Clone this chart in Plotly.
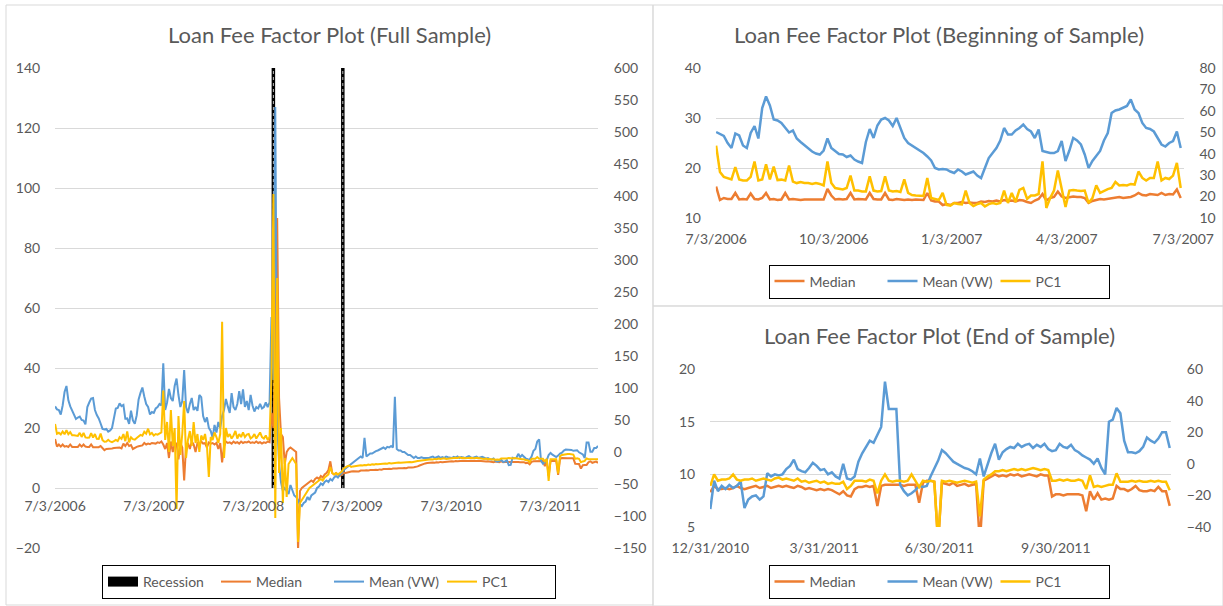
import pandas as pd
import plotly.graph_objects as go

# ---------------- DATA ----------------
# Full sample: weekly observations starting 2006-07-03
full_start = "2006-07-03"
median_full = [
    16.3, 13.8, 14.5, 13.8, 14.5, 13.8, 14.0, 13.7, 14.5, 13.7,
    13.7, 13.6, 13.7, 14.5, 13.8, 14.5, 13.8, 13.7, 13.7, 14.5,
    13.6, 13.6, 13.7, 13.6, 14.0, 13.3, 12.6, 13.0, 13.0, 13.0,
    13.2, 13.3, 13.3, 13.4, 13.5, 13.2, 14.8, 14.0, 15.0, 14.0,
    14.3, 13.0, 13.5, 13.7, 13.9, 14.1, 14.2, 15.0, 14.5, 14.8,
    14.6, 15.0,
    15.0, 14.8, 15.2, 15.0, 15.5,
    14.5, 13.0, 15.0, 10.0, 15.5, 12.0, 14.5,
    15.0, 9.5, 15.0, 13.5, 2.5, 14.0, 15.0,
    13.0, 15.5, 14.5, 12.0, 15.0, 14.5, 15.5,
    14.8, 15.0, 13.5, 15.2, 14.8, 15.0, 14.5,
    15.0, 13.0, 15.0, 8.5, 14.0, 15.5, 15.0,
    15.2, 14.8, 15.5, 15.0, 15.3, 14.8, 15.5,
    15.0, 15.3, 15.2, 15.5, 15.0,
    15.2, 15.0, 15.5, 15.0, 15.3, 14.8, 15.2, 15.0, 15.5, 15.3,
    25, 20, 45, 90, 30, 18, 17, 8, 12, 13, 13.5, 13, 12.5, 12, -21,
    -1, 0, 0.5, 1.0, 1.5, 2.0, 2.5, 2.0, 3.0, 3.5,
    3.0, 4.0, 3.5, 4.5, 5.0, 6.0, 8.9, 5.0, 4.5, 5.0,
    4.5, 4.0, 4.5, 5.0, 5.0, 5.2, 5.5,
    5.5, 5.6, 5.6, 5.7, 5.5, 5.8, 5.7, 5.8, 5.9, 5.8,
    6.0, 5.9, 6.0, 6.1, 6.0, 6.2, 6.1, 6.3, 6.2, 6.3,
    6.4, 6.3, 6.5, 6.4, 6.5, 6.6, 6.5, 6.6, 6.7, 6.6,
    6.8, 6.7, 6.8, 6.9, 7.0, 7.2, 7.5, 7.8,
    8.0, 8.2, 8.3, 8.4, 8.3, 8.5, 8.4, 8.6, 8.5, 8.7, 8.6, 8.7, 8.8, 8.7,
    8.8, 8.9, 8.8, 9.0, 8.9, 9.0, 8.9, 9.1, 9.0, 8.9,
    9.0, 9.1, 9.0, 8.9, 9.0, 9.1, 9.0, 8.9, 9.0, 8.8,
    8.9, 8.8, 8.7, 8.6, 8.8, 8.7, 8.6,
    8.9, 8.6, 8.7, 8.7, 8.7, 8.7, 8.9, 8.8, 8.8, 8.7,
    8.6, 8.6, 8.6, 8.3, 8.4, 7.9, 8.7, 8.9, 8.9, 8.9,
    9.0, 9.0, 9.0, 7.3, 9.4, 4.0, 9.0, 9.0, 9.1, 9.0,
    4.4, 9.6, 10.0, 9.9, 9.9, 9.9, 9.9, 10.0, 9.9, 8.1,
    8.1, 8.0, 6.5, 7.6, 7.7, 7.7, 8.6, 8.9, 8.4, 8.5,
    8.8, 8.4,
]
mean_full = [
    27.2, 26.2, 26.0, 24.5, 27.5, 32.0, 34.0, 29.2, 27.2, 25.9,
    24.3, 23.0, 23.5, 23.8, 22.7, 22.5, 21.2, 27.0, 28.5, 29.8,
    30.0, 26.0, 24.3, 23.2, 21.5, 19.7, 19.5, 19.7, 18.8, 19.2,
    20.0, 23.5, 26.5, 26.7, 28.2, 27.3, 27.7, 23.1, 23.2, 21.4,
    25.8, 22.5, 21.4, 24.2, 29.5, 31.7, 33.5, 30.5, 28.0, 27.0,
    24.5, 25.3,
    25.0, 26.5, 27.0, 28.0, 27.5, 41.6, 26.0, 28.5, 33.0, 30.0,
    29.0, 34.0, 36.5, 31.0, 27.0, 29.0, 39.3, 27.0, 25.0, 28.0,
    30.0, 26.0, 27.0, 25.7, 31.0, 30.3, 24.0, 22.0, 23.5, 20.0,
    19.0, 16.8, 21.0, 18.5, 22.0, 20.0, 24.0, 26.0, 29.7, 27.2,
    25.0, 31.6, 27.0, 26.0, 28.0, 32.3, 28.0, 32.9, 27.0, 29.0,
    26.0, 31.0,
    27.5, 25.5, 27.0, 26.5, 28.0, 26.5, 27.0, 28.5, 27.0, 28.5,
    57, 36, 127, 22, 8,
    2, -1, 0, -1, -2, 1, -1, -2.5, -3, -4,
    -5.5, -6, -5, -4.5, -3, -4, -2.5, -2, -1.5, 0,
    0.5, 1.5, 1.0, 2.0, 2.5, 2.0, 3.0, 2.5, 3.5, 4.0,
    3.5, 4.5, 5.0, 6.0, 6.5, 7.0, 7.5,
    8.0, 8.5, 9.3, 9.5, 10.0, 10.5, 10.0, 16.7, 10.5, 11.0,
    11.5, 11.5, 12.0, 12.3, 12.5, 12.8, 13.0, 13.5, 13.0, 13.7,
    13.5, 14.0, 13.5, 30.4, 13.0, 12.5, 12.5, 12.0, 12.0, 11.5,
    11.0, 11.0, 10.5, 10.0, 10.5, 10.0, 10.0, 10.2, 10.0, 10.0,
    10.2, 10.0, 10.3, 10.5, 10.0, 10.2, 10.5, 10.0, 10.3, 10.0,
    10.5, 10.3,
    10.2, 10.0, 10.4, 10.1, 10.5, 10.0, 10.3, 10.2, 10.0, 10.4,
    10.6, 10.2, 10.0, 10.3, 10.5, 10.0, 10.2, 10.4, 10.1, 9.8,
    10.0, 9.6, 9.5, 9.8, 9.0, 8.8, 9.0,
    9.4, 8.7, 8.8, 9.3, 7.6, 7.7, 10.1, 9.95, 10.0, 11.4,
    10.3, 11.0, 10.4, 9.8, 9.6, 9.5, 10.5, 12.4, 13.0, 15.5,
    16.2, 9.0, 8.1, 8.7, 9.3, 11.0, 11.7, 11.1, 10.6, 10.3,
    10.8, 11.5, 11.8, 12.5, 12.8, 12.8, 12.6, 12.7, 12.4, 12.6,
    12.6, 11.9, 11.6, 11.2, 10.0, 15.2, 15.2, 12.1, 12.1, 13.3,
    13.3, 14.0,
]
pc1_full = [
    43.8, 28.5, 30.0, 27.5, 32.0, 27.7, 34.0, 27.8, 31.0, 26.3,
    26.3, 26.1, 25.2, 30.0, 23.5, 29.8, 22.8, 22.4, 22.5, 29.4,
    22.5, 28.0, 20.5, 20.4, 28.7, 18.6, 16.0, 16.5, 19.0, 16.5,
    15.4, 17.0, 19.0, 17.0, 23.1, 20.5, 28.0, 17.0, 32.2, 15.1,
    23.0, 20.0, 19.3, 22.0, 24.0, 26.8, 25.4, 31.7, 28.7, 36.4,
    27.5, 29.8,
    25.8, 28.1, 27.2, 29.1, 30.5, 96.1,
    18.8, 46.9, 0.0, 65.6, 9.4, 37.5, -89.1,
    56.3, -4.7, 28.1, 79.7, -9.4, 18.8,
    32.8, 9.4, 46.9, 14.1, 28.1, 0.0, 25.8,
    18.8, 28.1, 9.4, -38.9, 23.4, 18.8, 30.5,
    23.4, 14.1, 28.1, 203.4, -9.4, 37.5, 23.4,
    28.1, 21.1, 25.8, 32.8, 21.1, 28.1, 23.4,
    30.5, 23.4, 27.2, 28.1, 21.1,
    23.4, 28.1, 21.1, 25.8, 30.5, 23.4, 21.1, 25.8, 18.8, 23.4,
    117.2, 403.1, -103.1, 271.9, -32.8, 37.5, -79.7, -9.4, -70.3, -18.8,
    -14.1, -9.4, -14.1, -18.8, -140.6,
    -79.7, -75.0, -70.3, -65.6, -60.9, -56.3, -53.9, -51.6, -49.2, -46.9,
    -44.5, -42.2, -44.5, -39.8, -37.5, -35.2, -23.4, -32.8, -35.2, -32.8,
    -35.2, -32.8, -30.5, -25.8, -23.4, -22.0, -21.1,
    -23.4, -22.5, -22.0, -21.1, -21.6, -20.6, -21.1, -20.2, -20.6, -19.7,
    -20.2, -19.2, -19.7, -18.8, -19.2, -18.8, -18.3, -18.8, -17.8, -18.3,
    -17.3, -17.8, -17.3, -16.9, -17.3, -16.4, -16.9, -16.4, -15.9, -16.4,
    -15.9, -15.5, -15.9, -15.0, -14.5, -14.1, -13.6, -13.1,
    -12.7, -12.2, -11.7, -12.2, -11.3, -11.7, -10.8, -11.3, -10.3, -10.8,
    -10.3, -9.8, -10.8, -10.3,
    -9.8, -9.4, -9.8, -8.9, -9.4, -8.4, -9.4, -8.9, -9.8, -9.4,
    -8.4, -8.9, -9.4, -9.8, -8.9, -9.4, -10.3, -9.8, -10.8, -10.3,
    -11.3, -10.8, -11.7, -11.3, -12.2, -11.7, -12.2,
    -10.0, -10.0, -10.7, -10.0, -9.3, -10.0, -10.0, -9.3, -10.0, -10.0,
    -10.7, -11.3, -11.3, -12.7, -12.7, -16.0, -10.7, -10.7, -10.7, -8.0,
    -10.7, -10.7, -10.7, -14.7, -10.7, -45.0, -11.3, -11.3, -11.3, -11.3,
    -33.3, -6.7, -4.7, -4.0, -3.3, -3.3, -3.3, -3.3, -4.0, -10.7,
    -10.0, -10.7, -16.0, -14.7, -14.0, -10.0, -11.3, -11.3, -10.7, -11.3,
    -11.3, -11.3,
]
recession_start = "2008-09-15"
recession_end = "2009-05-29"
recession_height = 140
full_tick_dates = ["2006-07-03", "2007-07-03", "2008-07-03", "2009-07-03", "2010-07-03", "2011-07-03"]
full_tick_text = ["7/3/2006", "7/3/2007", "7/3/2008", "7/3/2009", "7/3/2010", "7/3/2011"]

# Beginning of sample: every 3 days from 2006-07-03
begin_start = "2006-07-03"
median_begin = [
    16.3, 13.6, 14.0, 13.8, 13.8, 15.0, 13.7, 13.8, 13.7, 14.9,
    13.8, 13.7, 14.0, 15.0, 13.7, 13.8, 13.6, 13.7, 15.0, 13.7,
    13.8, 13.7, 13.6, 13.7, 13.7, 13.6, 13.7, 13.6, 13.7, 15.8,
    14.5, 13.7, 13.8, 13.7, 13.8, 15.0, 13.7, 13.8, 13.7, 13.7,
    15.0, 13.8, 13.7, 13.7, 15.0, 13.7, 13.6, 13.8, 13.7, 13.6,
    13.7, 13.6, 13.7, 13.6, 13.6, 15.0, 13.5, 13.3, 13.3, 12.6,
    12.8, 12.6, 13.0, 13.0, 13.2, 13.0, 13.1, 13.0, 13.0, 13.3,
    13.2, 13.4, 13.3, 13.5, 13.3, 13.6, 13.4, 13.5, 13.3, 13.6,
    13.5, 13.2, 13.0, 13.5, 13.8, 14.8, 13.5, 14.0, 14.2, 15.3,
    14.3, 14.0, 14.2, 14.3, 14.2, 14.2, 14.0, 13.0, 13.4, 13.6,
    13.8, 13.7, 13.8, 13.9, 14.0, 14.2, 14.0, 14.1, 14.2, 14.5,
    15.0, 14.6, 14.5, 14.8, 14.7, 14.6, 15.0, 14.6, 14.8, 14.7,
    15.7, 14.0,
]
mean_begin = [
    27.2, 26.8, 26.4, 25.0, 24.0, 26.9, 26.5, 24.5, 24.0, 27.0,
    28.4, 25.9, 32.0, 34.3, 32.5, 29.7, 29.5, 29.0, 28.0, 27.1,
    27.5, 25.9, 25.2, 24.5, 24.0, 23.3, 22.9, 22.7, 23.5, 25.9,
    24.0, 23.3, 22.8, 22.7, 22.2, 22.5, 21.7, 21.3, 21.0, 25.2,
    27.8, 26.0, 28.5, 29.7, 30.0, 29.5, 28.4, 30.0, 28.0, 26.0,
    25.0, 24.5, 24.0, 23.4, 23.0, 22.3, 21.5, 20.0, 19.7, 19.8,
    19.7, 19.3, 19.0, 19.7, 19.3, 18.7, 19.0, 19.3, 18.5, 18.0,
    20.0, 22.0, 23.0, 24.0, 25.5, 28.0, 26.7, 26.7, 27.5, 28.0,
    28.7, 27.8, 27.3, 26.0, 27.7, 23.4, 23.2, 23.0, 23.0, 23.4,
    25.4, 21.4, 23.5, 26.0, 25.5, 24.7, 22.7, 20.0, 21.4, 22.5,
    23.4, 25.5, 27.0, 31.0, 31.5, 31.7, 32.0, 32.4, 33.7, 31.7,
    31.0, 29.0, 28.0, 27.8, 27.3, 26.0, 24.7, 24.3, 25.0, 25.4,
    27.3, 24.0,
]
pc1_begin = [
    43.8, 31.5, 29.2, 28.7, 28.0, 33.8, 28.0, 27.5, 27.5, 29.2,
    36.4, 27.5, 28.0, 35.0, 28.0, 34.0, 27.7, 27.9, 27.5, 34.5,
    27.0, 26.3, 26.8, 26.3, 26.3, 25.9, 26.3, 25.9, 25.2, 36.4,
    26.3, 24.0, 23.5, 23.3, 24.0, 29.8, 22.8, 22.8, 22.4, 22.4,
    29.4, 22.8, 22.4, 22.6, 29.4, 22.8, 22.4, 22.6, 22.1, 28.0,
    21.7, 20.7, 20.5, 20.5, 20.3, 28.7, 19.3, 18.9, 18.4, 21.7,
    16.1, 15.8, 17.0, 16.5, 16.3, 22.8, 17.0, 15.6, 16.5, 17.0,
    15.4, 16.5, 17.0, 16.5, 17.0, 22.8, 17.0, 21.7, 17.5, 23.1,
    24.0, 18.9, 20.5, 20.5, 21.2, 36.4, 14.7, 19.3, 22.8, 32.2,
    22.8, 15.1, 22.8, 23.1, 22.8, 22.6, 22.8, 17.0, 19.3, 25.2,
    21.7, 22.8, 23.5, 24.0, 26.8, 25.2, 25.4, 25.2, 25.9, 25.6,
    31.7, 28.7, 27.5, 28.7, 28.7, 36.4, 27.5, 28.7, 28.2, 29.8,
    35.7, 24.0,
]
begin_tick_dates = ["2006-07-03", "2006-10-03", "2007-01-03", "2007-04-03", "2007-07-03"]
begin_tick_text = ["7/3/2006", "10/3/2006", "1/3/2007", "4/3/2007", "7/3/2007"]

# End of sample: every 3 days from 2010-12-31
end_start = "2010-12-31"
median_end = [
    8.3, 8.9, 8.6, 8.6, 8.7, 8.6, 8.7, 8.9, 8.7, 8.6,
    8.7, 8.8, 8.9, 8.7, 8.8, 8.9, 8.7, 8.8, 8.9, 8.8,
    8.9, 8.8, 8.7, 8.9, 8.8, 8.6, 8.7, 8.6, 8.5, 8.6,
    8.5, 8.6, 8.5, 8.3, 8.1, 8.4, 8.0, 7.9, 8.6, 8.8,
    8.8, 8.9, 8.8, 8.9, 7.0, 8.9, 9.0, 9.0, 9.0, 9.0,
    9.0, 8.9, 9.0, 9.0, 9.0, 7.3, 9.2, 9.4, 9.4, 9.3,
    3.5, 9.2, 9.1, 9.0, 9.2, 8.9, 9.0, 9.1, 8.9, 9.0,
    9.1, 3.5, 9.4, 9.6, 9.8, 10.0, 9.8, 9.9, 9.8, 10.0,
    9.9, 10.0, 9.8, 9.9, 10.0, 9.9, 9.8, 10.0, 9.9, 9.9,
    7.9, 8.1, 8.1, 8.0, 8.1, 8.1, 8.1, 8.1, 8.0, 6.5,
    8.4, 7.6, 8.2, 7.6, 7.7, 7.6, 7.7, 8.9, 8.6, 8.6,
    8.4, 8.6, 8.9, 8.5, 8.4, 8.4, 8.5, 8.4, 8.8, 8.4,
    8.4, 7.0,
]
mean_end = [
    6.7, 9.4, 8.4, 8.9, 8.6, 9.0, 8.7, 8.9, 9.3, 6.8,
    7.6, 7.9, 8.0, 7.6, 7.9, 10.1, 9.8, 10.0, 9.9, 10.0,
    10.5, 10.8, 11.4, 10.5, 10.3, 10.2, 10.6, 11.1, 10.8, 10.4,
    10.5, 10.0, 10.2, 9.8, 9.6, 11.0, 9.6, 9.5, 9.8, 11.2,
    12.0, 12.6, 13.2, 13.0, 13.7, 14.5, 18.8, 16.2, 16.2, 16.2,
    9.0, 8.4, 8.0, 8.2, 8.5, 8.9, 8.8, 8.9, 9.8, 10.5,
    11.3, 12.3, 12.0, 11.6, 11.2, 11.0, 10.8, 10.6, 10.5, 10.3,
    10.0, 11.5, 9.8, 11.0, 12.0, 12.9, 11.4, 12.1, 12.4, 12.6,
    12.5, 12.9, 12.6, 12.8, 12.9, 12.5, 12.8, 12.6, 12.9, 12.4,
    12.2, 12.3, 12.9, 12.6, 12.5, 12.8, 12.3, 12.1, 11.8, 11.6,
    11.4, 11.0, 11.5, 10.6, 10.0, 15.0, 15.2, 16.3, 15.8, 13.2,
    12.1, 12.1, 12.0, 12.2, 12.6, 13.5, 13.2, 13.0, 13.4, 14.0,
    14.0, 12.5,
]
pc1_end = [
    -14.0, -6.7, -10.7, -10.0, -10.0, -9.3, -6.7, -10.0, -10.7, -10.0,
    -10.0, -9.3, -10.7, -10.0, -9.3, -10.0, -10.7, -9.3, -8.7, -10.0,
    -9.3, -10.0, -10.7, -9.3, -11.3, -10.7, -12.0, -11.3, -10.7, -12.0,
    -11.3, -12.7, -12.0, -12.7, -12.7, -11.3, -16.0, -14.0, -10.7, -10.7,
    -10.7, -11.3, -10.0, -10.7, -18.7, -10.7, -6.7, -10.7, -11.3, -10.7,
    -10.7, -11.3, -10.7, -6.7, -10.7, -14.7, -10.7, -11.3, -10.7, -11.3,
    -50.0, -10.7, -11.3, -10.7, -11.3, -12.0, -11.3, -10.7, -11.3, -12.0,
    -11.3, -33.3, -10.0, -8.0, -6.7, -4.7, -4.7, -4.0, -4.7, -4.0,
    -3.3, -4.0, -3.3, -4.0, -3.3, -2.7, -3.3, -4.0, -3.3, -4.0,
    -10.7, -10.7, -10.0, -10.7, -10.0, -10.7, -10.7, -10.0, -10.7, -16.0,
    -7.3, -14.7, -14.0, -14.7, -14.0, -13.3, -13.3, -6.0, -11.3, -11.3,
    -11.3, -10.7, -11.3, -10.7, -11.3, -11.3, -10.7, -11.3, -10.7, -11.3,
    -11.3, -16.7,
]
end_tick_dates = ["2010-12-31", "2011-03-31", "2011-06-30", "2011-09-30"]
end_tick_text = ["12/31/2010", "3/31/2011", "6/30/2011", "9/30/2011"]

# ---------------- STYLE ----------------
W, H = 1223, 606
C_MED, C_MEAN, C_PC1 = "#ED7D31", "#5B9BD5", "#FFC000"
TXT, GRID = "#595959", "#D9D9D9"
FONT = "Lato, Carlito, Calibri, sans-serif"
CLEAR = "rgba(0,0,0,0)"


def fx(p):
    return p / W


def fy(p):
    return 1 - p / H


dates_full = pd.date_range(full_start, periods=len(median_full), freq="7D")
dates_begin = pd.date_range(begin_start, periods=len(median_begin), freq="3D")
dates_end = pd.date_range(end_start, periods=len(median_end), freq="3D")

fig = go.Figure()

# ---- Full sample ----
rec_x = [recession_start, recession_start, None, recession_end, recession_end]
rec_y = [0, recession_height, None, 0, recession_height]
fig.add_trace(go.Scatter(x=rec_x, y=rec_y, mode="lines", line=dict(color="black", width=3.5),
                         showlegend=False, xaxis="x", yaxis="y", hoverinfo="skip"))
fig.add_trace(go.Scatter(x=rec_x, y=rec_y, mode="lines", line=dict(color="#BFBFBF", width=1, dash="dot"),
                         showlegend=False, xaxis="x", yaxis="y", hoverinfo="skip"))
fig.add_trace(go.Scatter(x=[recession_start], y=[0], mode="lines", name="Recession",
                         line=dict(color="black", width=10), legend="legend", xaxis="x", yaxis="y"))
fig.add_trace(go.Scatter(x=dates_full, y=median_full, mode="lines", name="Median",
                         line=dict(color=C_MED, width=2), legend="legend", xaxis="x", yaxis="y"))
fig.add_trace(go.Scatter(x=dates_full, y=mean_full, mode="lines", name="Mean (VW)",
                         line=dict(color=C_MEAN, width=2), legend="legend", xaxis="x", yaxis="y"))
fig.add_trace(go.Scatter(x=dates_full, y=pc1_full, mode="lines", name="PC1",
                         line=dict(color=C_PC1, width=2), legend="legend", xaxis="x", yaxis="y2"))

# ---- Beginning ----
fig.add_trace(go.Scatter(x=dates_begin, y=median_begin, mode="lines", name="Median",
                         line=dict(color=C_MED, width=2.5), legend="legend2", xaxis="x2", yaxis="y3"))
fig.add_trace(go.Scatter(x=dates_begin, y=mean_begin, mode="lines", name="Mean (VW)",
                         line=dict(color=C_MEAN, width=2.5), legend="legend2", xaxis="x2", yaxis="y3"))
fig.add_trace(go.Scatter(x=dates_begin, y=pc1_begin, mode="lines", name="PC1",
                         line=dict(color=C_PC1, width=2.5), legend="legend2", xaxis="x2", yaxis="y4"))

# ---- End ----
fig.add_trace(go.Scatter(x=dates_end, y=median_end, mode="lines", name="Median",
                         line=dict(color=C_MED, width=2.5), legend="legend3", xaxis="x3", yaxis="y5"))
fig.add_trace(go.Scatter(x=dates_end, y=mean_end, mode="lines", name="Mean (VW)",
                         line=dict(color=C_MEAN, width=2.5), legend="legend3", xaxis="x3", yaxis="y5"))
fig.add_trace(go.Scatter(x=dates_end, y=pc1_end, mode="lines", name="PC1",
                         line=dict(color=C_PC1, width=2.5), legend="legend3", xaxis="x3", yaxis="y6"))

tickfont = dict(family=FONT, size=14, color=TXT)


def xax(domain, anchor, rng, tv, tt, **kw):
    d = dict(domain=domain, anchor=anchor, type="date", range=rng, tickmode="array",
             tickvals=tv, ticktext=tt, showgrid=False, zeroline=False, showline=False,
             ticks="outside", ticklen=5, tickcolor=CLEAR, tickfont=tickfont, fixedrange=True,
             automargin=False)
    d.update(kw)
    return d


def yax(domain, anchor, rng, dtick, grid=True, **kw):
    d = dict(domain=domain, anchor=anchor, range=rng, dtick=dtick, tick0=0,
             showgrid=grid, gridcolor=GRID, gridwidth=1, zeroline=False, showline=False,
             ticks="outside", ticklen=11, tickcolor=CLEAR, tickfont=tickfont, fixedrange=True,
             automargin=False)
    d.update(kw)
    return d


def legend_box(xc, yc):
    return dict(orientation="h", x=fx(xc), xanchor="center", y=fy(yc), yanchor="middle",
                bordercolor="black", borderwidth=1, bgcolor="white",
                entrywidth=68, entrywidthmode="pixels",
                font=dict(family=FONT, size=14, color=TXT), traceorder="normal")


title_font = dict(family=FONT, size=22, color=TXT)
border = dict(color=GRID, width=1)

fig.update_layout(
    width=W, height=H, autosize=False,
    margin=dict(l=0, r=0, t=0, b=0, pad=0, autoexpand=False),
    paper_bgcolor="white", plot_bgcolor="white",
    font=dict(family=FONT, color=TXT),
    xaxis=xax([fx(55), fx(598)], "free", [dates_full[0] - pd.Timedelta(hours=6), dates_full[-1]],
              full_tick_dates, full_tick_text, position=fy(488)),
    yaxis=yax([fy(548), fy(68)], "x", [-20, 140], 20),
    yaxis2=yax([fy(548), fy(68)], "x", [-150, 600], 50, grid=False, overlaying="y", side="right", ticklen=12),
    xaxis2=xax([fx(715.8), fx(1183.6)], "y3", ["2006-07-02 18:00", "2007-07-03 06:00"],
               begin_tick_dates, begin_tick_text, ticklen=8),
    yaxis3=yax([fy(218), fy(68)], "x2", [10, 40], 10),
    yaxis4=yax([fy(218), fy(68)], "x2", [10, 80], 10, grid=False, overlaying="y3", side="right", ticklen=12),
    xaxis3=xax([fx(710), fx(1171)], "y5", ["2010-12-30 18:00", "2011-12-30"],
               end_tick_dates, end_tick_text, ticklen=8),
    yaxis5=yax([fy(527), fy(369)], "x3", [5, 20], 5),
    yaxis6=yax([fy(527), fy(369)], "x3", [-40, 60], 20, grid=False, overlaying="y5", side="right", ticklen=12),
    legend=legend_box(329, 582),
    legend2=legend_box(939, 281.5),
    legend3=legend_box(939, 582),
    showlegend=True,
    annotations=[
        dict(text="Loan Fee Factor Plot (Full Sample)", x=fx(329), y=fy(35), xref="paper", yref="paper",
             xanchor="center", yanchor="middle", showarrow=False, font=title_font),
        dict(text="Loan Fee Factor Plot (Beginning of Sample)", x=fx(939), y=fy(34), xref="paper", yref="paper",
             xanchor="center", yanchor="middle", showarrow=False, font=title_font),
        dict(text="Loan Fee Factor Plot (End of Sample)", x=fx(939), y=fy(335), xref="paper", yref="paper",
             xanchor="center", yanchor="middle", showarrow=False, font=title_font),
    ],
    shapes=[
        dict(type="rect", xref="paper", yref="paper", x0=fx(6), x1=fx(653), y0=fy(605), y1=fy(5),
             line=border, layer="below"),
        dict(type="rect", xref="paper", yref="paper", x0=fx(653), x1=fx(1223), y0=fy(306), y1=fy(5),
             line=border, layer="below"),
        dict(type="rect", xref="paper", yref="paper", x0=fx(653), x1=fx(1223), y0=fy(606), y1=fy(306),
             line=border, layer="below"),
    ],
)

fig.write_html("out.html", config={"displayModeBar": False},
               post_script="document.body.style.margin='0';document.body.style.overflow='hidden';")
